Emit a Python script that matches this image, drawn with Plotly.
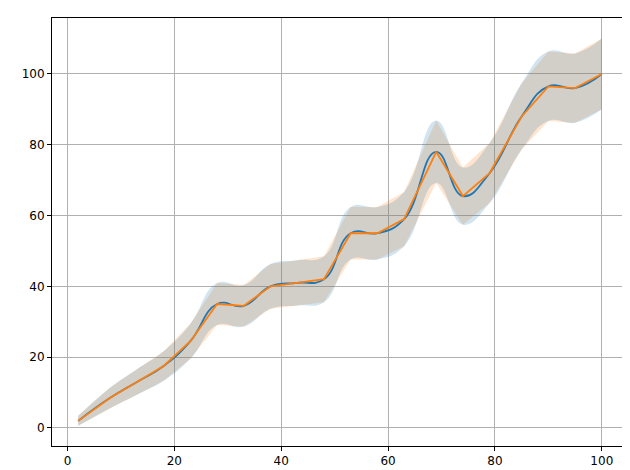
import plotly.graph_objects as go

x = [2, 8, 13, 18, 23, 28, 33, 38, 43, 48, 53, 58, 63, 69, 74, 79, 85, 90, 95, 100]
y_blue = [2, 8.5, 13, 17.5, 24.5, 35, 34.5, 40, 41, 42, 55, 55, 59, 78, 65.5, 72, 88, 96.5, 96, 100]
y_orange = [2, 8.5, 13, 17.5, 24.5, 35, 34.5, 40, 41, 42, 55, 55, 59, 78, 65.5, 72, 88, 96.5, 96, 100]

fig = go.Figure()

def band(yv, color, shape):
    lo = [v - v ** 0.5 for v in yv]
    hi = [v + v ** 0.5 for v in yv]
    fig.add_trace(go.Scatter(x=x, y=lo, mode="lines", line=dict(width=0, shape=shape, smoothing=1.3),
                             showlegend=False, hoverinfo="skip"))
    fig.add_trace(go.Scatter(x=x, y=hi, mode="lines", line=dict(width=0, shape=shape, smoothing=1.3),
                             fill="tonexty", fillcolor=color, showlegend=False, hoverinfo="skip"))

band(y_orange, "rgba(255,127,14,0.2)", "linear")
band(y_blue, "rgba(31,119,180,0.2)", "spline")

fig.add_trace(go.Scatter(x=x, y=y_blue, mode="lines",
                         line=dict(color="#1f77b4", width=1.8, shape="spline", smoothing=1.3),
                         showlegend=False))
fig.add_trace(go.Scatter(x=x, y=y_orange, mode="lines",
                         line=dict(color="#ff7f0e", width=1.8), showlegend=False))

axis = dict(showgrid=True, gridcolor="#b0b0b0", gridwidth=1, zeroline=False,
            showline=True, linecolor="black", mirror=True, ticks="outside",
            ticklen=4, tickcolor="black", tickfont=dict(size=12, color="black"),
            automargin=False)
fig.update_xaxes(range=[-2.9, 104.9], tickvals=[0, 20, 40, 60, 80, 100], **axis)
fig.update_yaxes(range=[-5.1, 115.8], tickvals=[0, 20, 40, 60, 80, 100], **axis)

fig.update_layout(width=630, height=470, plot_bgcolor="white", paper_bgcolor="white",
                  margin=dict(l=44, r=10, t=10, b=32),
                  font=dict(family="DejaVu Sans"))

fig.write_html("out.html")
